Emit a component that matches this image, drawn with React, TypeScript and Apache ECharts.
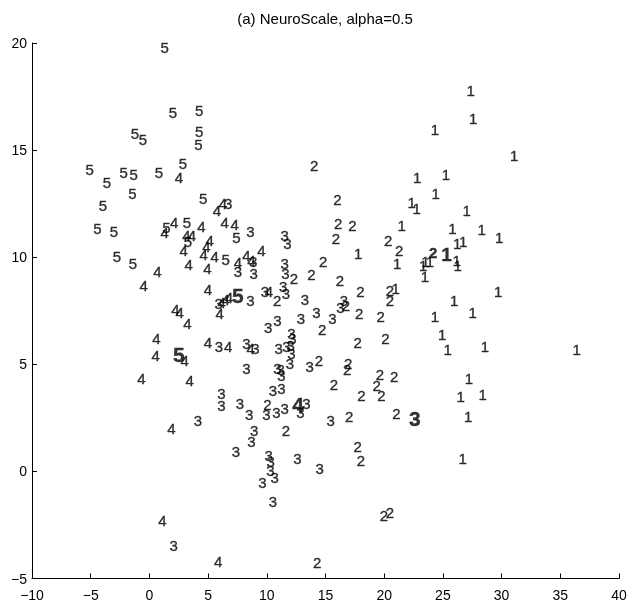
import React, { useEffect, useRef } from "react";
import * as echarts from "echarts";

const TITLE = "(a) NeuroScale, alpha=0.5";
const X_TICKS = [-10, 40, 5];
const Y_TICKS = [-5, 20, 5];

const class1: number[][] = [
  [27.36, 17.78], [27.58, 16.46], [24.32, 15.97], [31.08, 14.75], [22.81, 13.71],
  [25.25, 13.87], [24.38, 12.97], [22.33, 12.57], [22.76, 12.27], [27.02, 12.19],
  [25.82, 11.33], [28.3, 11.29], [29.8, 10.94], [26.22, 10.63], [26.73, 10.71],
  [23.89, 9.78], [23.32, 9.62], [23.52, 9.78], [23.46, 9.08], [26.17, 9.86],
  [26.25, 9.62], [29.71, 8.38], [25.96, 7.96], [27.53, 7.44], [24.32, 7.24],
  [24.94, 6.4], [25.4, 5.69], [28.58, 5.81], [36.39, 5.69], [27.21, 4.34],
  [26.51, 3.48], [28.38, 3.61], [27.15, 2.55], [26.68, 0.61], [21.48, 11.49],
  [17.78, 10.17], [21.1, 9.7], [20.97, 8.54],
];

const class2: number[][] = [
  [14.03, 14.29], [16.02, 12.69], [16.07, 11.57], [17.3, 11.49], [15.88, 10.87],
  [20.34, 10.79], [21.27, 10.32], [12.3, 9.0], [13.81, 9.19], [14.8, 9.82],
  [16.22, 8.89], [17.98, 8.41], [20.48, 8.46], [20.48, 7.99], [10.88, 7.96],
  [16.73, 7.76], [17.86, 7.37], [19.69, 7.24], [14.71, 6.62], [17.73, 6.04],
  [20.11, 6.2], [14.45, 5.19], [16.93, 5.04], [16.84, 4.76], [15.71, 4.07],
  [19.63, 4.52], [19.35, 4.03], [20.85, 4.41], [18.07, 3.56], [19.77, 3.56],
  [10.06, 3.14], [17.01, 2.58], [21.05, 2.71], [11.62, 1.89], [17.73, 1.18],
  [18.01, 0.53], [19.97, -2.04], [20.48, -1.93], [14.28, -4.26],
];

const class3: number[][] = [
  [6.7, 12.5], [8.61, 11.18], [11.53, 11.02], [11.76, 10.63], [8.83, 9.78],
  [7.55, 9.31], [8.89, 9.24], [11.53, 9.7], [11.59, 9.24], [8.61, 7.96],
  [9.83, 8.41], [11.39, 8.61], [11.62, 8.3], [13.24, 8.02], [14.23, 7.44],
  [12.9, 7.14], [10.91, 7.06], [10.11, 6.72], [15.6, 7.14], [16.56, 7.99],
  [16.28, 7.65], [12.1, 6.46], [12.19, 6.2], [12.04, 5.89], [12.1, 5.5],
  [11.96, 5.04], [11.68, 5.81], [11.02, 5.74], [8.27, 5.97], [9.03, 5.76],
  [5.93, 5.81], [8.27, 4.8], [13.66, 4.88], [10.91, 4.8], [11.19, 4.76],
  [11.25, 4.49], [10.53, 3.79], [11.25, 3.87], [6.14, 3.64], [6.14, 3.09],
  [7.7, 3.17], [8.49, 2.67], [9.97, 2.67], [10.82, 2.73], [11.53, 2.94],
  [13.38, 3.17], [12.87, 2.73], [8.92, 1.89], [8.69, 1.38], [7.36, 0.91],
  [10.17, 0.76], [10.34, 0.45], [10.31, 0.06], [10.68, -0.28], [9.63, -0.53],
  [10.53, -1.42], [12.61, 0.61], [14.51, 0.14], [15.43, 2.36], [4.14, 2.39],
  [2.07, -3.48], [5.91, 7.84],
];

const class4: number[][] = [
  [2.52, 13.74], [5.76, 12.19], [6.27, 12.5], [1.3, 11.13], [2.1, 11.64],
  [4.43, 11.44], [6.42, 11.6], [7.27, 11.53], [3.15, 11.02], [3.63, 11.02],
  [5.14, 10.79], [2.92, 10.32], [4.86, 10.48], [4.63, 10.12], [5.57, 10.04],
  [7.55, 9.73], [8.27, 10.09], [8.69, 9.86], [9.55, 10.32], [0.68, 9.31],
  [-0.49, 8.69], [3.35, 9.65], [4.94, 9.47], [4.99, 8.5], [6.16, 7.9],
  [6.5, 8.04], [6.78, 8.1], [2.22, 7.56], [2.58, 7.44], [3.24, 6.9],
  [5.99, 7.37], [0.6, 6.2], [0.54, 5.42], [3.01, 5.16], [4.99, 6.04],
  [6.7, 5.81], [-0.68, 4.34], [3.43, 4.26], [10.19, 8.38], [8.63, 5.76],
  [1.88, 2.01], [1.11, -2.27], [5.85, -4.22],
];

const class5: number[][] = [
  [1.3, 19.8], [2.01, 16.77], [4.23, 16.85], [-1.23, 15.76], [-0.55, 15.49],
  [4.23, 15.89], [4.18, 15.25], [2.86, 14.39], [-5.09, 14.09], [-3.61, 13.51],
  [-2.19, 13.97], [-1.34, 13.87], [0.82, 13.97], [-1.45, 12.97], [-3.95, 12.42],
  [4.57, 12.73], [-4.43, 11.33], [-3.02, 11.22], [1.45, 11.38], [3.2, 11.6],
  [3.29, 10.71], [-2.76, 10.04], [-1.4, 9.7], [6.5, 9.89], [7.41, 10.94],
];

// class centres (bold)
const centreLabels = ["1", "2", "3", "4", "5", "5"];
const centrePoints: number[][] = [
  [25.31, 10.12], [24.17, 10.24], [22.61, 2.47], [12.67, 3.14], [7.53, 8.19], [2.5, 5.47],
];
const centreSizes = [19, 15, 21, 21, 21, 21];

const FONT = "'Liberation Sans', Arial, Helvetica, sans-serif";

export default function App() {
  const ref = useRef<HTMLDivElement>(null);
  useEffect(() => {
    if (!ref.current) return;
    const chart = echarts.init(ref.current, undefined, { renderer: "svg" });
    const labelBase = {
      show: true,
      position: "inside",
      color: "#000",
      textBorderWidth: 0.35,
      textBorderColor: "#000",
      fontFamily: FONT,
    };
    const classSeries = [class1, class2, class3, class4, class5].map((pts, i) => ({
      type: "scatter",
      data: pts,
      symbol: "circle",
      symbolSize: 1,
      itemStyle: { color: "rgba(0,0,0,0)" },
      silent: true,
      label: { ...labelBase, formatter: String(i + 1), fontSize: 15 },
    }));
    const centreSeries = {
      type: "scatter",
      data: centrePoints.map((p, i) => ({
        value: p,
        label: { formatter: centreLabels[i], fontSize: centreSizes[i] },
      })),
      symbol: "circle",
      symbolSize: 1,
      itemStyle: { color: "rgba(0,0,0,0)" },
      silent: true,
      label: { ...labelBase, fontWeight: "bold" },
    };
    const axisCommon = {
      axisLine: { show: true, onZero: false, lineStyle: { color: "#000", width: 1 } },
      axisTick: { show: true, inside: true, length: 5, lineStyle: { color: "#000" } },
      splitLine: { show: false },
      axisLabel: {
        color: "#000",
        fontSize: 14,
        fontFamily: FONT,
        formatter: (v: number) => String(v).replace("-", "\u2212"),
      },
    };
    chart.setOption({
      animation: false,
      backgroundColor: "#fff",
      color: ["#000"],
      graphic: [
        {
          type: "text",
          x: 325,
          y: 18,
          silent: true,
          style: {
            text: TITLE,
            fill: "#000",
            font: `15px ${FONT}`,
            textAlign: "center",
            textVerticalAlign: "middle",
          },
        },
      ],
      grid: { left: 32, right: 12, top: 43, bottom: 31.5, containLabel: false },
      xAxis: {
        type: "value",
        min: X_TICKS[0],
        max: X_TICKS[1],
        interval: X_TICKS[2],
        ...axisCommon,
        axisLabel: { ...axisCommon.axisLabel, margin: 9 },
      },
      yAxis: {
        type: "value",
        min: Y_TICKS[0],
        max: Y_TICKS[1],
        interval: Y_TICKS[2],
        ...axisCommon,
        axisLabel: { ...axisCommon.axisLabel, margin: 5 },
      },
      series: [...classSeries, centreSeries],
    });
    return () => chart.dispose();
  }, []);
  return (
    <div
      ref={ref}
      style={{
        position: "fixed",
        left: 0,
        top: 0,
        width: 631,
        height: 610,
        background: "#fff",
        filter: "grayscale(100%)",
      }}
    />
  );
}
